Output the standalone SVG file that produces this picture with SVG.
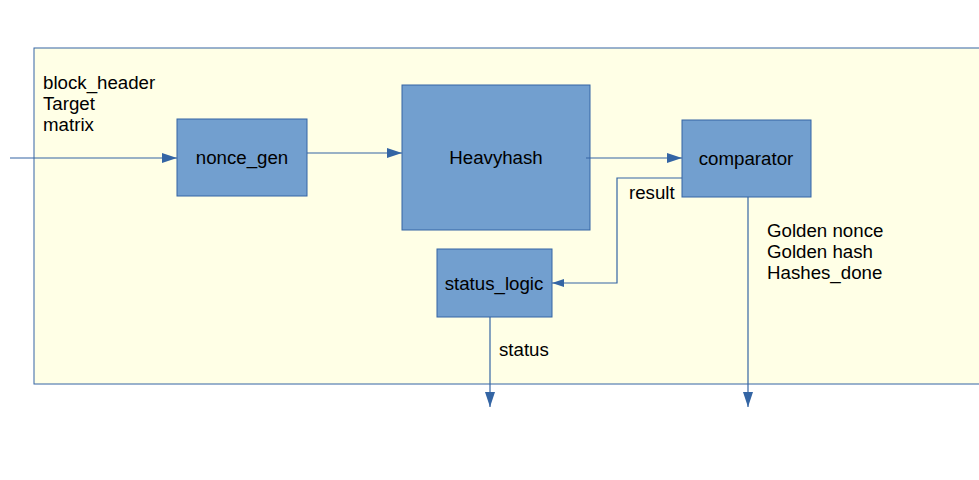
<svg xmlns="http://www.w3.org/2000/svg" width="979" height="480" viewBox="0 0 979 480">
<style>
.box{fill:#729fcf;stroke:#3465a4;stroke-width:1}
.t{font-family:"Liberation Sans",Arial,sans-serif;font-size:18.7px;fill:#000}
.c{text-anchor:middle}
.w{fill:none;stroke:#3465a4;stroke-width:1.2}
</style>
<defs>
<marker id="ah" viewBox="0 0 15 10" refX="15" refY="5" markerWidth="15" markerHeight="10" markerUnits="userSpaceOnUse" orient="auto">
<path d="M0,0 L15,5 L0,10 Z" fill="#3465a4"/>
</marker>
<marker id="ahs" viewBox="0 0 12 8" refX="12" refY="4" markerWidth="12" markerHeight="8" markerUnits="userSpaceOnUse" orient="auto">
<path d="M0,0 L12,4 L0,8 Z" fill="#3465a4"/>
</marker>
</defs>
<rect x="34" y="48" width="960" height="336" fill="#ffffe6" stroke="#3465a4" stroke-width="1"/>
<g id="labels">
<text class="t" x="43" y="89">block_header</text>
<text class="t" x="43" y="110">Target</text>
<text class="t" x="43" y="131">matrix</text>
<text class="t" x="629" y="199">result</text>
<text class="t" x="499" y="356">status</text>
<text class="t" x="767" y="237">Golden nonce</text>
<text class="t" x="767" y="258">Golden hash</text>
<text class="t" x="767" y="279">Hashes_done</text>
</g>
<g id="nonce_gen">
<rect class="box" x="177" y="119" width="130" height="77"/>
<text class="t c" x="242" y="164">nonce_gen</text>
</g>
<g id="heavyhash">
<rect class="box" x="402" y="85" width="188" height="145"/>
<text class="t c" x="496" y="164">Heavyhash</text>
</g>
<g id="comparator">
<rect class="box" x="682" y="120" width="129" height="77"/>
<text class="t c" x="746" y="165">comparator</text>
</g>
<g id="status_logic">
<rect class="box" x="437" y="249" width="115" height="68"/>
<text class="t c" x="494" y="290">status_logic</text>
</g>
<g id="connectors">
<path class="w" d="M10,158 H177" marker-end="url(#ah)"/>
<path class="w" d="M307,153 H402" marker-end="url(#ah)"/>
<path class="w" d="M586,158 H682" marker-end="url(#ah)"/>
<path class="w" d="M682,178 H617 V283 H552" marker-end="url(#ahs)"/>
<path class="w" d="M748,197 V407" marker-end="url(#ah)"/>
<path class="w" d="M490,317 V407" marker-end="url(#ah)"/>
</g>
</svg>
